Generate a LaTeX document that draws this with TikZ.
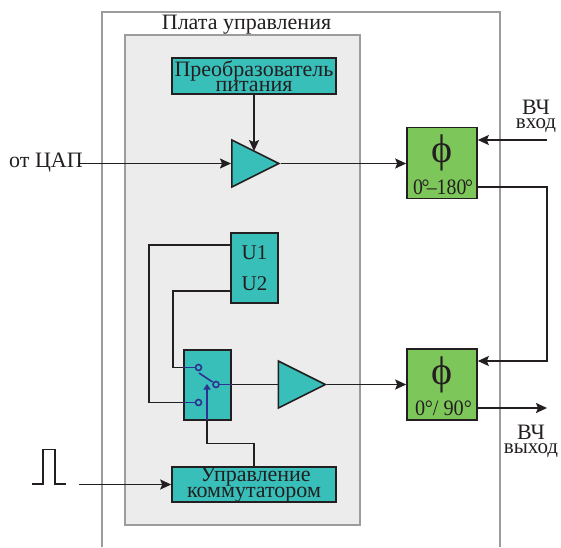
\documentclass[tikz,border=0pt]{standalone}
\usepackage{fontspec}
\setmainfont{Liberation Serif}
\usetikzlibrary{shapes.geometric,arrows.meta,calc}
\definecolor{teal1}{HTML}{38BFB9}
\definecolor{green1}{HTML}{7DC65A}
\definecolor{panel}{HTML}{ECECEC}
\definecolor{edge1}{HTML}{9C9C9C}
\definecolor{ink}{HTML}{231F20}
\definecolor{blue1}{HTML}{2E3192}
\tikzset{
  x=1pt,y=-1pt,
  tealbox/.style={draw=ink,fill=teal1,line width=1.6pt,inner sep=0pt,align=center,text=ink,font=\fontsize{22}{13}\selectfont},
  phasebox/.style={draw=ink,fill=green1,line width=1.6pt,inner sep=0pt,minimum width=70pt,minimum height=71pt},
  amp/.style={draw=ink,fill=teal1,line width=1.6pt,isosceles triangle,isosceles triangle stretches,inner sep=0pt,minimum width=47pt,minimum height=47pt,anchor=lower side},
  wire/.style={draw=ink,line width=1.7pt},
  arrowwire/.style={wire,-{Stealth[length=11pt,width=10pt,inset=2pt]}},
  bluewire/.style={draw=blue1,line width=1.6pt},
  contact/.style={circle,draw=blue1,line width=1.6pt,fill=none,minimum size=6pt,inner sep=0pt},
  label1/.style={inner sep=0pt,align=center,text=ink},
  dummy/.style={}
}
\begin{document}
\begin{tikzpicture}
\useasboundingbox (0,0) rectangle (561,547);
% outer board
\draw[edge1,line width=1.6pt] (102,547) -- (102,12) -- (500,12) -- (500,547);
% inner panel
\node[draw=edge1,fill=panel,line width=1.6pt,inner sep=0pt,minimum width=235pt,minimum height=490pt] (panel) at (242.5,280) {};
\node[label1,font=\fontsize{22}{22}\selectfont] (title) at (246.5,24.5) {Плата управления};
% boxes
\node[tealbox,minimum width=164pt,minimum height=36pt] (psu) at (254,76) {Преобразователь\\[-0.5pt]питания};
\node[tealbox,minimum width=164pt,minimum height=35pt] (ctrl) at (254,484.5) {\hspace*{3pt}Управление\\коммутатором};
\node[tealbox,minimum width=47pt,minimum height=70pt,font=\fontsize{21}{31}\selectfont] (uu) at (254.5,268) {U1\\U2};
\node[tealbox,minimum width=47pt,minimum height=70pt] (sw) at (207.5,385) {};
\node[amp] (amp1) at (231,163.5) {};
\node[amp] (amp2) at (277.5,384.5) {};
\node[phasebox] (ph1) at (442,163) {};
\node[phasebox] (ph2) at (442,384.5) {};
\node[label1,font=\fontsize{40}{40}\selectfont] (phi1) at (442,153) {ϕ};
\node[label1,font=\fontsize{40}{40}\selectfont] (phi2) at (442,375) {ϕ};
\node[label1,font=\fontsize{22}{22}\selectfont,xscale=.9] (deg1) at (443,187) {0\kern-1.5pt°\kern-3pt–180\kern-1.5pt°};
\node[label1,font=\fontsize{22}{22}\selectfont,xscale=.92] (deg2) at (443.5,408) {0\kern-0.5pt°\kern0pt/ 90\kern0pt°};
% labels
\node[label1,font=\fontsize{22}{22}\selectfont,anchor=west] (dac) at (9,163) {от ЦАП};
\node[label1,font=\fontsize{22}{13}\selectfont] (rfin) at (536,116.5) {ВЧ\\[1pt]\fontsize{21}{13}\selectfont вход};
\node[label1,font=\fontsize{22}{13}\selectfont] (rfout) at (531,441) {ВЧ\\[1pt]\fontsize{21}{13}\selectfont выход};
% free ends
\coordinate (dacend) at (79,163.5);
\coordinate (rfinend) at (547,140);
\coordinate (rfoutend) at (547,408);
\coordinate (pulseend) at (79,484.5);
% switch contacts
\node[contact] (c1) at (198.5,367.5) {};
\node[contact] (c2) at (198.5,402.5) {};
\node[contact] (c3) at (216,384.5) {};
% connectors
\draw[arrowwire] (psu.south) -- (psu.south |- amp1.left side);
\draw[arrowwire] (dacend) -- (amp1.lower side);
\draw[arrowwire] (amp1.apex) -- (amp1.apex -| ph1.west);
\draw[arrowwire] (rfinend) -- (rfinend -| ph1.east);
\draw[arrowwire] (ph1.east |- 0,187) -- (547,187) -- (547,361) -- (ph2.east |- 0,361);
\draw[arrowwire] (ph2.east |- rfoutend) -- (rfoutend);
\draw[arrowwire] (amp2.apex) -- (amp2.apex -| ph2.west);
\draw[arrowwire] (pulseend) -- (ctrl.west);
\draw[wire] (uu.west |- 0,245) -- (149,245) -- (149,402.5) -- (sw.west |- c2);
\draw[wire] (uu.west |- 0,291) -- (173,291) -- (173,367.5) -- (sw.west |- c1);
\draw[wire] (sw.east |- c3) -- (amp2.lower side);
\draw[wire] (ctrl.north -| 254,0) -- (254,443.5) -- (207,443.5) -- (207,420);
\draw[bluewire] (sw.west |- c1) -- (c1.west);
\draw[bluewire] (sw.west |- c2) -- (c2.west);
\draw[bluewire] (c3.east) -- (sw.east |- c3);
\draw[bluewire] (199,373) -- (212.5,382);
\draw[bluewire,-{Stealth[length=5.5pt,width=7pt,inset=0pt]}] (207,420) -- (207,384);
% pulse
\draw[wire] (32,484) -- (43,484) -- (43,449.5) -- (55,449.5) -- (55,484) -- (66,484);
\end{tikzpicture}
\end{document}
